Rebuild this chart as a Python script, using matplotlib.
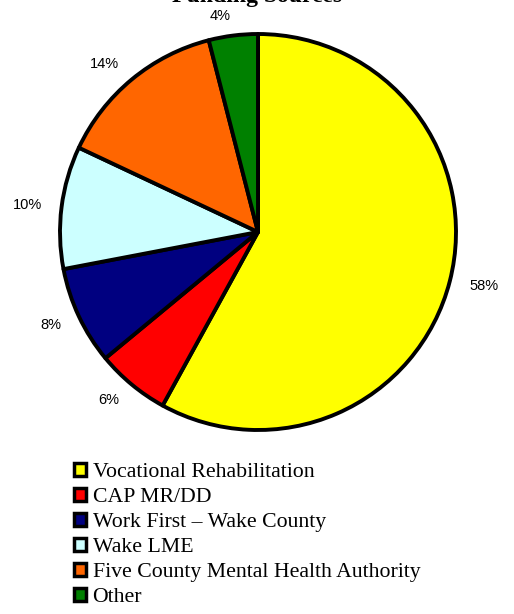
import matplotlib.pyplot as plt
from matplotlib.patches import Patch

# funding sources
sources = ["Vocational Rehabilitation", "CAP MR/DD", "Work First \u2013 Wake County",
           "Wake LME", "Five County Mental Health Authority", "Other"]
shares = [58, 6, 8, 10, 14, 4]
colors = ["#FFFF00", "#FF0000", "#000080", "#CCFFFF", "#FF6600", "#008000"]
pct_labels = [f"{v}%" for v in shares]

W, H = 514, 614
fig = plt.figure(figsize=(W / 100, H / 100), dpi=100)

# pie axes, placed in pixels
cx, cy, r = 258, 232, 198
ax = fig.add_axes([(cx - r) / W, (H - cy - r) / H, 2 * r / W, 2 * r / H])
wedges, texts = ax.pie(shares, colors=colors, labels=pct_labels, startangle=90,
                       counterclock=False, labeldistance=1.1, radius=1,
                       wedgeprops=dict(edgecolor="black", linewidth=2.8, joinstyle="round"),
                       textprops=dict(fontsize=10.5, family="Liberation Sans"))
ax.set_xlim(-1, 1)
ax.set_ylim(-1, 1)
ax.axis("off")

fig.text(0.5, 1 - 2 / H, "Funding Sources", ha="center", va="baseline",
         fontsize=17, fontweight="bold", family="Liberation Serif")

handles = [Patch(facecolor=c, edgecolor="black", linewidth=2.5) for c in colors]
fig.legend(handles, sources, loc="upper left", bbox_to_anchor=(74 / W, 1 - 463 / H),
           frameon=False, prop=dict(family="Liberation Serif", size=15.7),
           handlelength=0.55, handleheight=0.55, handletextpad=0.3,
           labelspacing=0.26, borderaxespad=0, borderpad=0)

fig.savefig("out.png", dpi=100)
